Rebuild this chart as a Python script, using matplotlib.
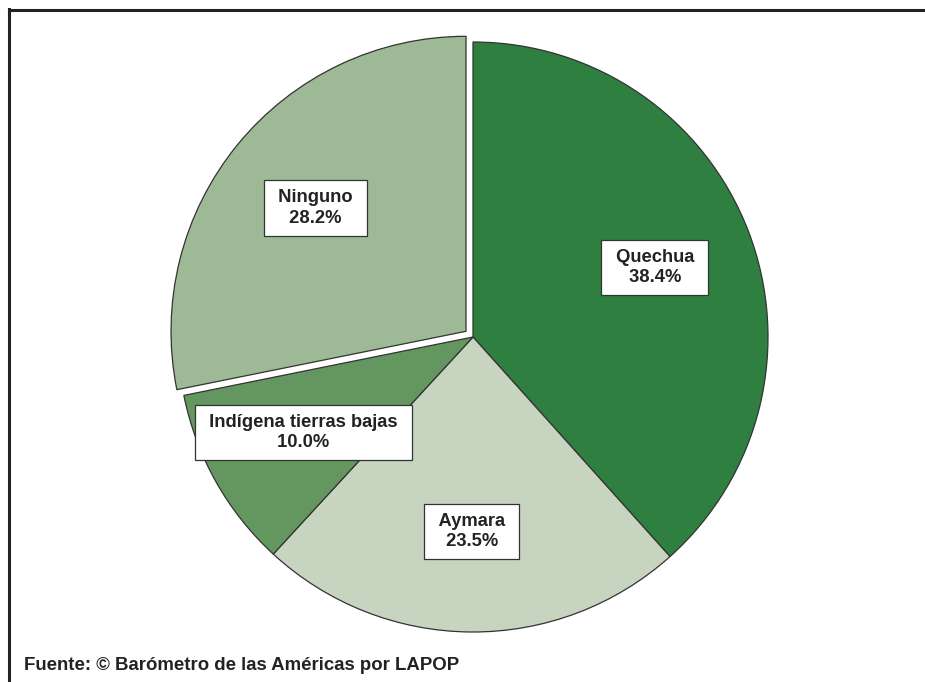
import matplotlib
matplotlib.use("Agg")
import matplotlib.pyplot as plt
from matplotlib.lines import Line2D

categories = ["Quechua", "Aymara", "Indígena tierras bajas", "Ninguno"]
values = [38.4, 23.5, 10.0, 28.2]
colors = ["#2f8040", "#c6d4c0", "#64975f", "#9db995"]
explode = [0, 0, 0, 9]
source = "Fuente: © Barómetro de las Américas por LAPOP"

plt.rcParams['font.family'] = ['Liberation Sans', 'DejaVu Sans']

W, H = 925, 682
fig = plt.figure(figsize=(W / 100, H / 100), dpi=100)
ax = fig.add_axes([0, 0, 1, 1])
ax.set_xlim(0, W)
ax.set_ylim(0, H)
ax.set_aspect('equal')
ax.axis('off')

labels = [f" {c} \n {v:.1f}% " for c, v in zip(categories, values)]
wedges, texts = ax.pie(values, labels=labels, colors=colors, explode=explode,
                       startangle=90, counterclock=False, center=(473, H - 337),
                       radius=295, labeldistance=0.66, frame=True,
                       wedgeprops=dict(edgecolor="#333333", linewidth=0.9))
for t in texts:
    t.set_ha('center')
    t.set_va('center')
    t.set_multialignment('center')
    t.set_fontsize(13.2)
    t.set_fontweight('bold')
    t.set_color('#222222')
    t.set_linespacing(1.25)
    t.set_bbox(dict(boxstyle='square,pad=0.5', facecolor='white',
                    edgecolor='#333333', linewidth=0.9))
ax.set_xlim(0, W)
ax.set_ylim(0, H)
ax.axis('off')

ax.text(24, H - 665, source, fontsize=13.45, fontweight='bold', color='#222222',
        ha='left', va='center')

fig.add_artist(Line2D([9 / W, 9 / W], [0, 1 - 9 / H], transform=fig.transFigure,
                      color='#222222', linewidth=2.2))
fig.add_artist(Line2D([9 / W, 1], [1 - 10 / H, 1 - 10 / H], transform=fig.transFigure,
                      color='#222222', linewidth=2.2))

fig.savefig("out.png", dpi=100, facecolor='white')
